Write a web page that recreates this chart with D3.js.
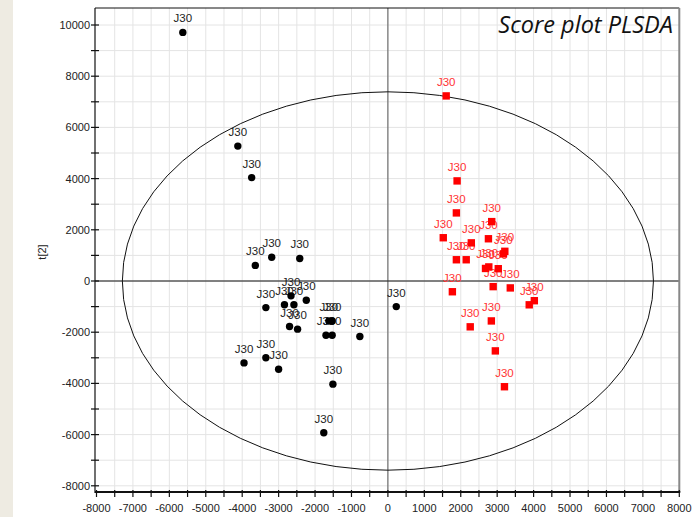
<!DOCTYPE html>
<html>
<head>
<meta charset="utf-8">
<script src="https://cdn.jsdelivr.net/npm/d3@7"></script>
<style>
  html, body { margin: 0; padding: 0; background: #ffffff; }
  svg { display: block; }
</style>
</head>
<body>
<svg id="chart" width="698" height="517"></svg>
<script>
// Class 1 scores (black circles): t[1], t[2]
const groupAX = [-5630, -4120, -3740, -3640, -3190, -2420, -2660, -2840, -2580, -2240, -3350, -2700,
                 -2480, -1700, -1530, -1620, -1530, -770, 230, -3950, -3350, -3000, -1510, -1760];
const groupAY = [9710, 5270, 4040, 610, 930, 880, -580, -930, -930, -750, -1040, -1780,
                 -1880, -2120, -2120, -1560, -1560, -2170, -1000, -3200, -3000, -3450, -4030, -5930];
// Class 2 scores (red squares): t[1], t[2]
const groupBX = [1600, 1900, 1880, 2850, 1520, 2290, 2760, 3210, 3170, 1880, 2150, 2680,
                 2770, 3030, 1770, 2890, 3360, 3880, 4020, 2840, 2260, 2950, 3200];
const groupBY = [7230, 3910, 2660, 2320, 1690, 1490, 1650, 1160, 1060, 830, 830, 490,
                 550, 480, -420, -220, -270, -930, -770, -1560, -1790, -2730, -4130];
const pointLabel = "J30";

// Hotelling T2 ellipse radii (t[1], t[2])
const ellipseRadii = [7290, 7390];

const xTickValues = d3.range(-8000, 8001, 1000);
const yTickValues = d3.range(-8000, 10001, 2000);
const xGridValues = d3.range(-7500, 8001, 500);
const yGridValues = d3.range(-8000, 10001, 1000);

const svg = d3.select("#chart");
const W = 698, H = 517;

// beige margin strip on the left
svg.append("rect").attr("x", 0).attr("y", 0).attr("width", 13).attr("height", H).attr("fill", "#eeebe2");

const x = d3.scaleLinear().domain([-8000, 8000]).range([96.5, 679.3]);
const y = d3.scaleLinear().domain([-8000, 10000]).range([485.8, 25]);

const plotL = 95, plotR = 679.3, plotT = 8, plotB = 492;

// grid
const grid = svg.append("g");
grid.selectAll("line.vg").data(xGridValues).join("line")
  .attr("x1", d => x(d)).attr("x2", d => x(d))
  .attr("y1", plotT).attr("y2", plotB)
  .attr("stroke", "#e4e4e4").attr("stroke-width", 1);
grid.selectAll("line.hg").data(yGridValues).join("line")
  .attr("x1", plotL).attr("x2", plotR)
  .attr("y1", d => y(d)).attr("y2", d => y(d))
  .attr("stroke", "#e4e4e4").attr("stroke-width", 1);

// zero lines
svg.append("line").attr("x1", plotL).attr("x2", plotR).attr("y1", y(0)).attr("y2", y(0))
  .attr("stroke", "#111").attr("stroke-width", 1);
svg.append("line").attr("x1", x(0)).attr("x2", x(0)).attr("y1", plotT).attr("y2", plotB)
  .attr("stroke", "#333").attr("stroke-width", 0.8);

// ellipse
svg.append("ellipse")
  .attr("cx", x(0)).attr("cy", y(0))
  .attr("rx", x(ellipseRadii[0]) - x(0))
  .attr("ry", y(0) - y(ellipseRadii[1]))
  .attr("fill", "none").attr("stroke", "#111").attr("stroke-width", 1);

// frame
svg.append("line").attr("x1", plotL).attr("x2", plotR).attr("y1", plotT).attr("y2", plotT)
  .attr("stroke", "#111").attr("stroke-width", 1);
svg.append("line").attr("x1", plotR).attr("x2", plotR).attr("y1", plotT).attr("y2", plotB)
  .attr("stroke", "#888").attr("stroke-width", 2);

// y axis
const yAxis = svg.append("g").attr("transform", `translate(${plotL},0)`);
yAxis.append("line").attr("x1", 0).attr("x2", 0).attr("y1", plotT).attr("y2", plotB + 1)
  .attr("stroke", "#111").attr("stroke-width", 1.2);
yAxis.selectAll("line.t").data(yGridValues).join("line")
  .attr("x1", -4).attr("x2", 4).attr("y1", d => y(d)).attr("y2", d => y(d))
  .attr("stroke", "#111").attr("stroke-width", 1.2);
yAxis.selectAll("text").data(yTickValues).join("text")
  .attr("x", -5).attr("y", d => y(d)).attr("dy", "0.36em")
  .attr("text-anchor", "end")
  .attr("font-family", "Liberation Sans, Arial, sans-serif").attr("font-size", 11)
  .attr("fill", "#222").text(d => d);

// x axis
const xAxis = svg.append("g").attr("transform", `translate(0,${plotB})`);
xAxis.append("line").attr("x1", plotL).attr("x2", plotR + 1).attr("y1", 0).attr("y2", 0)
  .attr("stroke", "#111").attr("stroke-width", 2);
xAxis.selectAll("line.t").data(d3.range(-8000, 8001, 500)).join("line")
  .attr("x1", d => x(d)).attr("x2", d => x(d)).attr("y1", -2).attr("y2", 5)
  .attr("stroke", "#111").attr("stroke-width", 1.2);
xAxis.selectAll("text").data(xTickValues).join("text")
  .attr("x", d => x(d)).attr("y", 20)
  .attr("text-anchor", "middle")
  .attr("font-family", "Liberation Sans, Arial, sans-serif").attr("font-size", 11)
  .attr("fill", "#222").text(d => d);

// axis title
svg.append("text").attr("transform", "translate(46,252) rotate(-90)")
  .attr("text-anchor", "middle")
  .attr("font-family", "Liberation Sans, Arial, sans-serif").attr("font-size", 11)
  .attr("fill", "#222").text("t[2]");

// chart title
svg.append("text").attr("x", 673).attr("y", 33)
  .attr("text-anchor", "end")
  .attr("font-family", "Open Sans, sans-serif").attr("font-style", "italic")
  .attr("font-size", 23.5).attr("fill", "#111").text("Score plot PLSDA");

const groupA = groupAX.map((v, i) => ({ x: v, y: groupAY[i] }));
const groupB = groupBX.map((v, i) => ({ x: v, y: groupBY[i] }));

// labels
const lab = svg.append("g")
  .attr("font-family", "Liberation Sans, Arial, sans-serif").attr("font-size", 11.5)
  .attr("text-anchor", "middle");
lab.selectAll("text.a").data(groupA).join("text")
  .attr("x", d => x(d.x)).attr("y", d => y(d.y) - 10)
  .attr("fill", "#222").text(pointLabel);
lab.selectAll("text.b").data(groupB).join("text")
  .attr("x", d => x(d.x)).attr("y", d => y(d.y) - 10)
  .attr("fill", "#ff3333").text(pointLabel);

// markers
svg.append("g").selectAll("circle").data(groupA).join("circle")
  .attr("cx", d => x(d.x)).attr("cy", d => y(d.y)).attr("r", 3.7)
  .attr("fill", "#000");
const sq = 7.4;
svg.append("g").selectAll("rect").data(groupB).join("rect")
  .attr("x", d => x(d.x) - sq / 2).attr("y", d => y(d.y) - sq / 2)
  .attr("width", sq).attr("height", sq)
  .attr("fill", "#ff0000");
</script>
</body>
</html>
